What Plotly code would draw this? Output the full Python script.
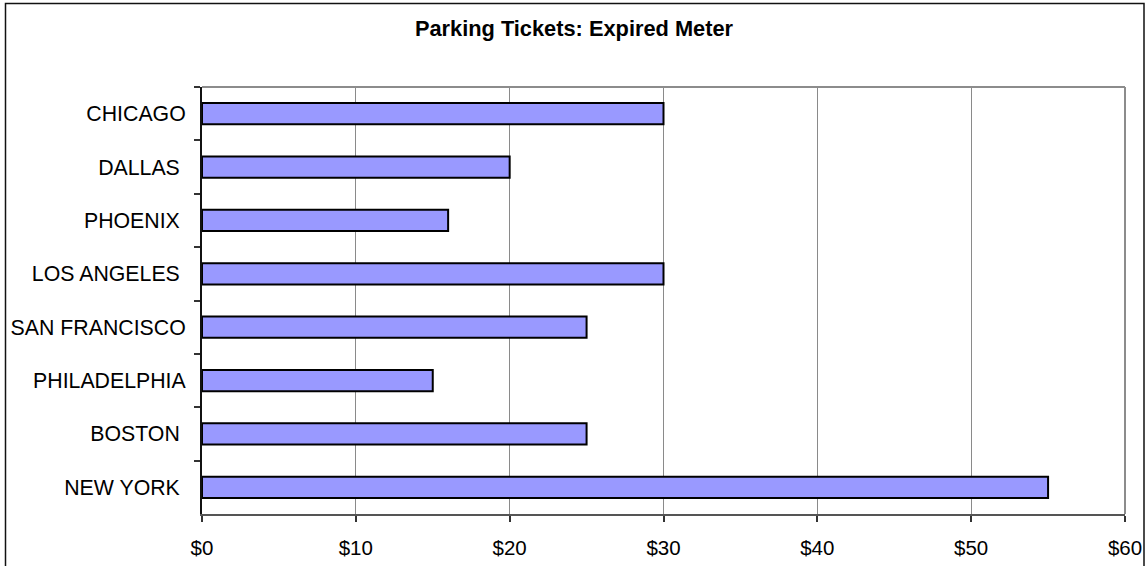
import plotly.graph_objects as go

# Expired-meter parking ticket fines by city (US dollars)
cities = ["CHICAGO", "DALLAS\u00a0", "PHOENIX\u00a0", "LOS ANGELES\u00a0", "SAN FRANCISCO",
          "PHILADELPHIA", "BOSTON\u00a0", "NEW YORK\u00a0"]
fines = [30, 20, 16, 30, 25, 15, 25, 55]
x_ticks = [0, 10, 20, 30, 40, 50, 60]
x_tick_labels = [f"${v}" for v in x_ticks]

W, H = 1148, 566
L, R, T, B = 202, 1125, 87, 514

fig = go.Figure(
    go.Bar(
        x=fines,
        y=cities,
        orientation="h",
        width=0.4,
        marker=dict(color="#9999FF", line=dict(color="#000000", width=2)),
        hoverinfo="x+y",
    )
)

font_family = "Liberation Sans, Arial, sans-serif"

fig.update_layout(
    width=W,
    height=H,
    margin=dict(l=L, r=W - R, t=T, b=H - B, pad=0, autoexpand=False),
    paper_bgcolor="white",
    plot_bgcolor="white",
    showlegend=False,
    font=dict(family=font_family, size=21, color="#000000"),
    title=dict(
        text="<b>Parking Tickets: Expired Meter</b>",
        x=0.5,
        xref="container",
        xanchor="center",
        y=1 - 28 / H,
        yref="container",
        yanchor="middle",
        font=dict(family=font_family, size=21.8, color="#000000"),
    ),
    xaxis=dict(
        range=[0, 60],
        tickvals=x_ticks,
        ticktext=x_tick_labels,
        automargin=False,
        showgrid=True,
        gridcolor="#8a8a8a",
        gridwidth=1,
        zeroline=False,
        showline=True,
        linecolor="#555555",
        linewidth=2,
        ticks="outside",
        ticklen=6,
        tickwidth=1.5,
        tickcolor="#333333",
        ticklabelstandoff=8,
        tickfont=dict(size=20.5),
        fixedrange=True,
    ),
    yaxis=dict(
        categoryorder="array",
        categoryarray=cities,
        autorange="reversed",
        automargin=False,
        showgrid=False,
        zeroline=False,
        showline=True,
        linecolor="#111111",
        linewidth=2,
        ticks="outside",
        tickson="boundaries",
        ticklen=6,
        tickwidth=1.5,
        tickcolor="#333333",
        ticklabelstandoff=10,
        tickfont=dict(size=21.3),
        fixedrange=True,
    ),
)

# Gray frame on the top and right sides of the plotting area
fig.add_shape(type="line", xref="paper", yref="paper", x0=0, x1=1, y0=1, y1=1,
              line=dict(color="#8c8c8c", width=2), layer="above")
fig.add_shape(type="line", xref="paper", yref="paper", x0=1, x1=1, y0=0, y1=1,
              line=dict(color="#8c8c8c", width=2), layer="above")

# Outer chart border
pw, ph = R - L, B - T
fig.add_shape(type="rect", xref="paper", yref="paper",
              x0=(5.5 - L) / pw, x1=(1144 - L) / pw,
              y0=(B - 575) / ph, y1=(B - 3.5) / ph,
              line=dict(color="#111111", width=1.5), fillcolor="rgba(0,0,0,0)",
              layer="above")

fig.write_html("out.html", config={"displayModeBar": False})
